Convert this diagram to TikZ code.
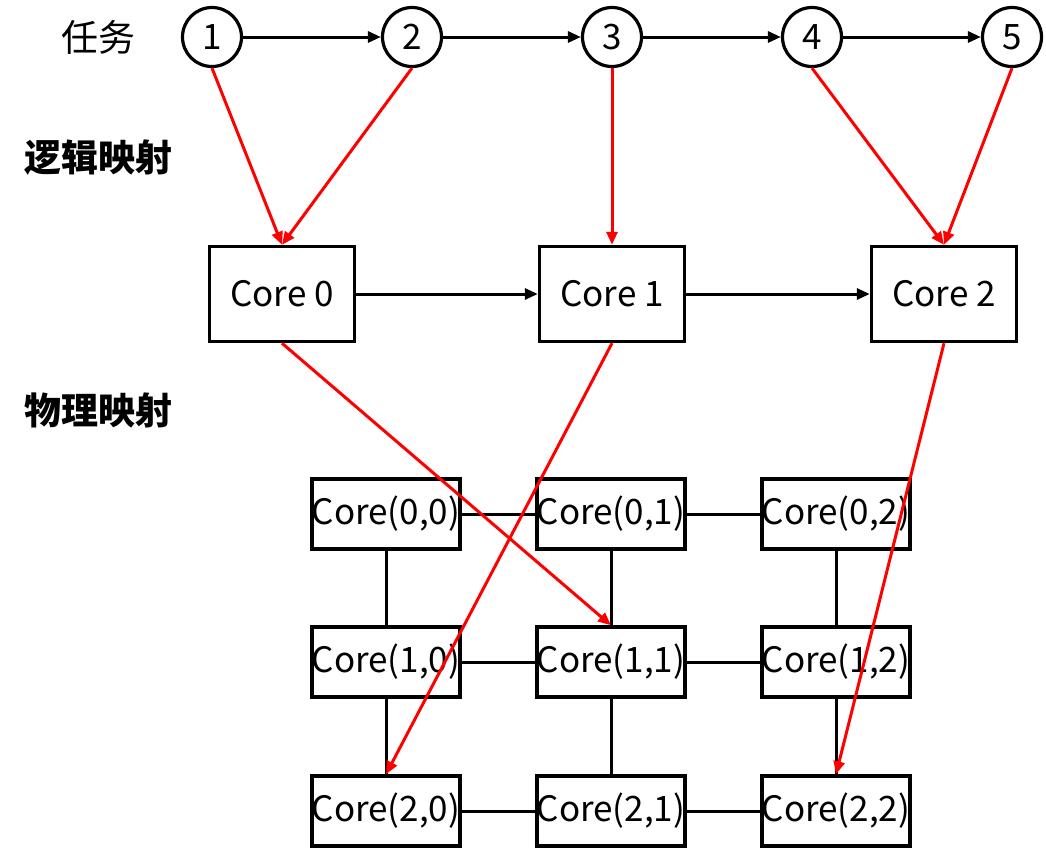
\documentclass[tikz,border=0pt]{standalone}
\usepackage{fontspec}
\setmainfont{Noto Sans CJK SC}
\usetikzlibrary{arrows.meta}
\begin{document}
\begin{tikzpicture}[x=1pt,y=-1pt,
  task/.style={circle,draw,line width=3.2pt,minimum size=59pt,inner sep=0pt,font=\fontsize{35}{35}\selectfont},
  lcore/.style={rectangle,draw,line width=3.4pt,minimum width=145pt,minimum height=95pt,inner sep=0pt,font=\fontsize{35}{35}\selectfont},
  pcore/.style={rectangle,draw,line width=3.4pt,minimum width=147pt,minimum height=70pt,inner sep=0pt,font=\fontsize{35}{35}\selectfont},
  label/.style={font=\fontsize{37}{37}\selectfont},
  blabel/.style={font=\fontsize{37}{37}\selectfont\bfseries},
  blk/.style={line width=3pt,-{Triangle[length=13pt,width=11pt]}},
  redarr/.style={red,line width=3pt,-{Triangle[length=13pt,width=11pt]}},
  link/.style={line width=3pt}
]
\useasboundingbox (0,0) rectangle (1046,857);
\node[label] (t) at (98,37) {任务};
\node[blabel] (l1) at (98,158) {逻辑映射};
\node[blabel] (l2) at (98,410) {物理映射};

\foreach \i/\x in {1/212,2/412,3/612,4/812,5/1012}
  \node[task] (c\i) at (\x,37) {\i};
\foreach \a/\b in {1/2,2/3,3/4,4/5}
  \draw[blk] (c\a) -- (c\b);

\node[lcore] (k0) at (282,294) {Core 0};
\node[lcore] (k1) at (612,294) {Core 1};
\node[lcore] (k2) at (944,294) {Core 2};
\draw[blk] (k0) -- (k1);
\draw[blk] (k1) -- (k2);

\foreach \r/\y in {0/514,1/662,2/811}
  \foreach \c/\x in {0/386,1/611,2/836}
    \node[pcore] (p\r\c) at (\x,\y) {Core(\r,\c)};
\foreach \r in {0,1,2}{
  \draw[link] (p\r0) -- (p\r1);
  \draw[link] (p\r1) -- (p\r2);
}
\foreach \c in {0,1,2}{
  \draw[link] (p0\c) -- (p1\c);
  \draw[link] (p1\c) -- (p2\c);
}

\draw[redarr] (c1.south) -- (k0.north);
\draw[redarr] (c2.south) -- (k0.north);
\draw[redarr] (c3.south) -- (k1.north);
\draw[redarr] (c4.south) -- (k2.north);
\draw[redarr] (c5.south) -- (k2.north);
\draw[redarr] (k0.south) -- (p11.north);
\draw[redarr] (k1.south) -- (p20.north);
\draw[redarr] (k2.south) -- (p22.north);
\end{tikzpicture}
\end{document}
